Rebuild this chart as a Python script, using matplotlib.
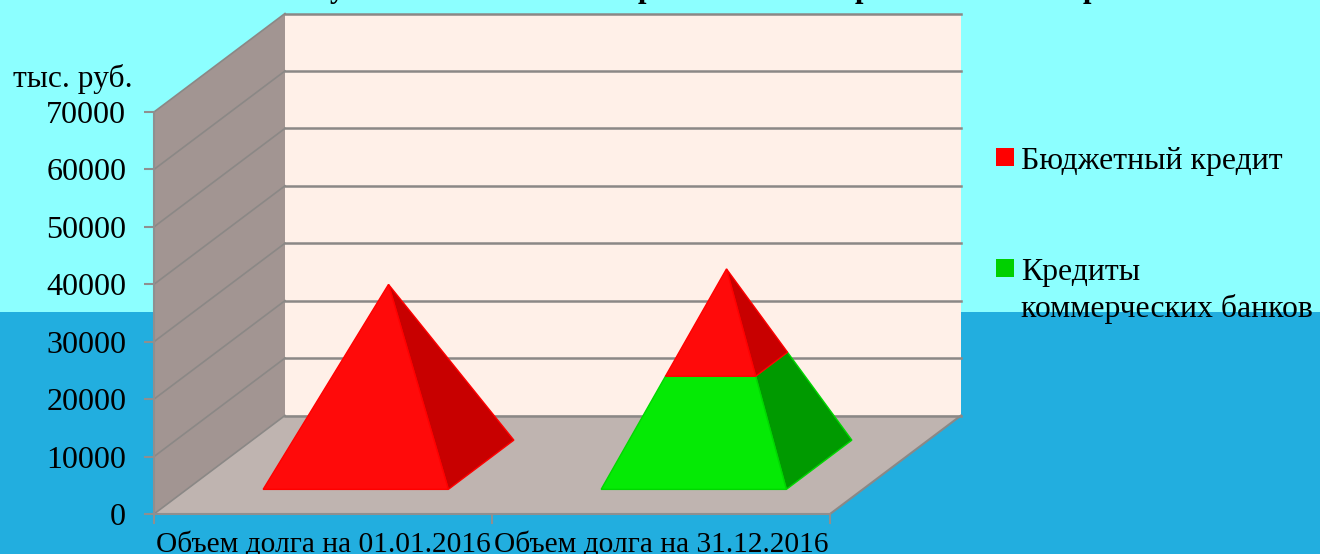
import matplotlib
matplotlib.use('Agg')
from matplotlib import pyplot as plt
from matplotlib.patches import Polygon, Rectangle

categories = ['Объем долга на 01.01.2016', 'Объем долга на 31.12.2016']
budget_credit = [31400, 16600]
bank_credit = [0, 17500]
y_ticks = [0, 10000, 20000, 30000, 40000, 50000, 60000, 70000]
series_names = ['Бюджетный кредит', 'Кредиты\nкоммерческих банков']
title_glyphs = ['у', 'р', 'р', 'р']
title_x = [337, 646, 863, 1091]

W, H = 1320, 554
plt.rcParams['font.family'] = ['Liberation Serif', 'DejaVu Serif']

fig = plt.figure(figsize=(W / 100, H / 100), dpi=100)
fig.patches.append(Rectangle((0, 0), 1, 1 - 311.5 / H, transform=fig.transFigure, fc='#22aedf', ec='none', zorder=-2))
fig.patches.append(Rectangle((0, 1 - 311.5 / H), 1, 311.5 / H, transform=fig.transFigure, fc='#8cffff', ec='none', zorder=-2))

# front plane of the 3d box
ax = fig.add_axes([154 / W, 1 - 514 / H, 676 / W, 402 / H])
ax.patch.set_visible(False)
ymax = y_ticks[-1]
ax.set_xlim(0, len(categories))
ax.set_ylim(0, ymax)

# depth offset in data units
dep_x = 131 / 338
dep_y = 98.5 / 402 * ymax


def pt(x, d, v):
    return (x + d * dep_x, v + d * dep_y)


def poly(points, fc, ec='none', lw=0, z=2):
    ax.add_patch(Polygon(points, closed=True, fc=fc, ec=ec, lw=lw, zorder=z, clip_on=False))


n = len(categories)
# walls and floor
poly([pt(0, 1, 0), pt(n, 1, 0), pt(n, 1, ymax), pt(0, 1, ymax)], '#fff0e8', z=1)
poly([pt(0, 0, 0), pt(0, 1, 0), pt(0, 1, ymax), pt(0, 0, ymax)], '#a29592', z=1)
poly([pt(0, 0, 0), pt(n, 0, 0), pt(n, 1, 0), pt(0, 1, 0)], '#bfb4b0', z=1)
for v in y_ticks:
    a, b, c = pt(0, 0, v), pt(0, 1, v), pt(n, 1, v)
    ax.plot([a[0], b[0]], [a[1], b[1]], color='#8b8886', lw=1.2, zorder=1.5, clip_on=False)
    ax.plot([b[0], c[0]], [b[1], c[1]], color='#8b8886', lw=1.8, zorder=1.5, clip_on=False)
a, b = pt(n, 0, 0), pt(n, 1, 0)
ax.plot([a[0], b[0]], [a[1], b[1]], color='#8b8886', lw=1.5, zorder=1.5, clip_on=False)


def corners(cx, v, top):
    s = 1 - v / top
    hw, hd = 0.274 * s, 0.25 * s
    return pt(cx - hw, 0.5 - hd, v), pt(cx + hw, 0.5 - hd, v), pt(cx + hw, 0.5 + hd, v)


def segment(cx, v0, v1, top, front, side, edge):
    fl0, fr0, br0 = corners(cx, v0, top)
    fl1, fr1, br1 = corners(cx, v1, top)
    poly([fr0, br0, br1, fr1], side, edge, 1.0, 3)
    poly([fl0, fr0, fr1, fl1], front, edge, 1.0, 3)


for i in range(n):
    top = bank_credit[i] + budget_credit[i]
    if bank_credit[i] > 0:
        segment(i + 0.5, 0, bank_credit[i], top, '#05ea05', '#009a00', '#00d800')
    segment(i + 0.5, bank_credit[i], top, top, '#ff0a0a', '#c80000', '#ff0000')

ax.spines['top'].set_visible(False)
ax.spines['right'].set_visible(False)
for s in ['left', 'bottom']:
    ax.spines[s].set_color('#8f8f8f')
    ax.spines[s].set_linewidth(1.5)
    ax.spines[s].set_zorder(2.5)
ax.set_yticks(y_ticks)
ax.set_yticklabels([str(v) for v in y_ticks], fontsize=23)
ax.set_xticks(range(n + 1))
ax.set_xticklabels([])
ax.set_xticks([i + 0.5 for i in range(n)], minor=True)
ax.set_xticklabels(categories, minor=True, fontsize=21.2)
ax.tick_params(axis='y', length=7, width=1.5, color='#8f8f8f', pad=13)
ax.tick_params(axis='x', which='major', length=7, width=1.5, color='#8f8f8f')
ax.tick_params(axis='x', which='minor', length=0, pad=12.5)

fig.text(13 / W, 1 - 87 / H, 'тыс. руб.', fontsize=22.7, va='baseline')

# title runs off the top of the picture, only the descenders are left
for g, x in zip(title_glyphs, title_x):
    fig.text(x / W, 1 + 3 / H, g, fontsize=22, fontweight='bold', ha='center', va='baseline')

# legend
leg_colors = ['#ff0000', '#00d000']
leg_y = [157, 268]
for name, c, y in zip(series_names, leg_colors, leg_y):
    fig.patches.append(Rectangle((996 / W, 1 - (y + 9) / H), 18 / W, 18 / H, transform=fig.transFigure, fc=c, ec='none'))
    fig.text(1021 / W, 1 - (y - 10) / H, name, fontsize=22.9, va='top', linespacing=1.3)

plt.savefig('out.png', dpi=100)
